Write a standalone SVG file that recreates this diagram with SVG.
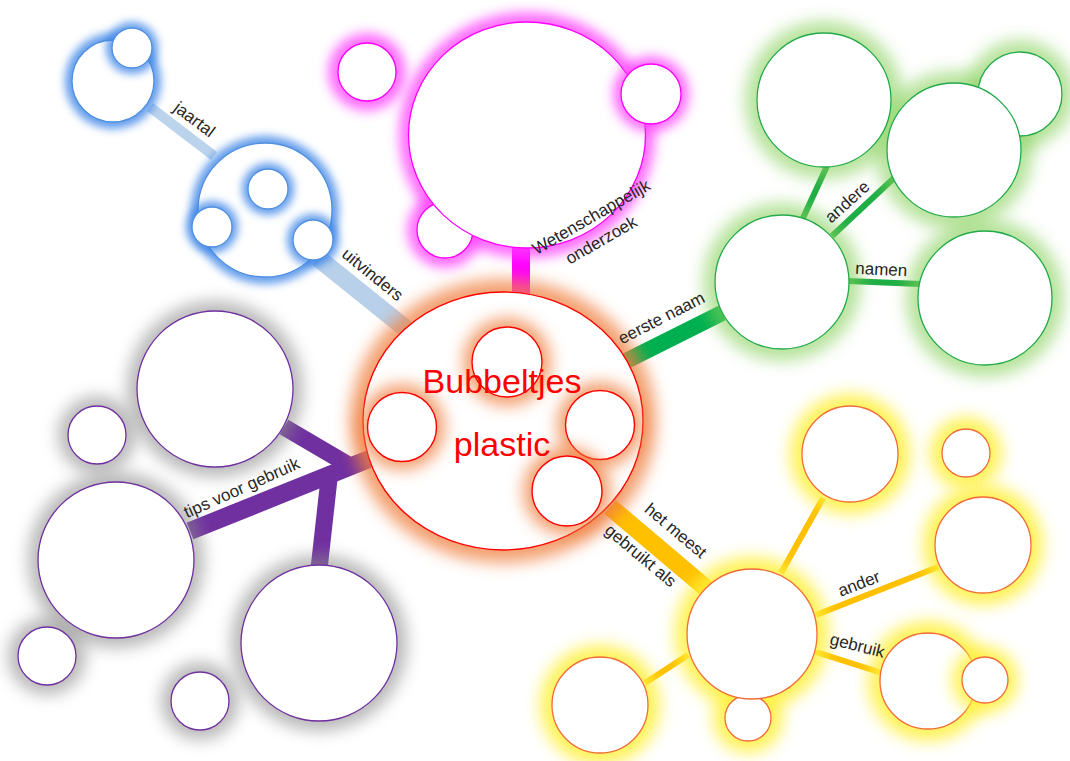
<svg xmlns="http://www.w3.org/2000/svg" width="1070" height="761" viewBox="0 0 1070 761">
<defs>
<filter id="f1" x="-50%" y="-50%" width="200%" height="200%"><feGaussianBlur stdDeviation="4"/></filter>
<filter id="f2" x="-50%" y="-50%" width="200%" height="200%"><feGaussianBlur stdDeviation="6"/></filter>
<filter id="f3" x="-50%" y="-50%" width="200%" height="200%"><feGaussianBlur stdDeviation="8"/></filter>
<style>
.gB{fill:#3d85e6;opacity:.8;filter:url(#f1)}
.gM{fill:#ff40ff;opacity:.75;filter:url(#f2)}
.gG{fill:#86d05a;opacity:.6;filter:url(#f3)}
.gR{fill:#f0803f;opacity:.75;filter:url(#f3)}
.gP{fill:#8a8a8a;opacity:.6;filter:url(#f3)}
.gY{fill:#fff03a;opacity:.85;filter:url(#f3)}
.nB{fill:#fff;stroke:#4f8fe0;stroke-width:1.3}
.nM{fill:#fff;stroke:#ff00ff;stroke-width:1.3}
.nG{fill:#fff;stroke:#22aa4a;stroke-width:1.3}
.nR{fill:#fff;stroke:#ff0000;stroke-width:1.4}
.nP{fill:#fff;stroke:#7030a0;stroke-width:1.3}
.nY{fill:#fff;stroke:#f26c3a;stroke-width:1.3}
.lbl{font-family:"Liberation Sans",Arial,sans-serif;font-size:17px;fill:#262626;text-anchor:middle}
.ttl{font-family:"Liberation Sans",Arial,sans-serif;font-size:34px;fill:#ff0000;text-anchor:middle}
line{stroke-linecap:butt}
</style>
</defs>
<rect width="1070" height="761" fill="#fff"/>

<g id="connectors">
<line x1="150" y1="107" x2="214" y2="156" stroke="#bcd3ec" stroke-width="10"/>
<line x1="318" y1="258" x2="410" y2="332" stroke="#b9d0ea" stroke-width="18"/>
<line x1="521" y1="246" x2="521" y2="294" stroke="#ff00ff" stroke-width="18"/>
<line x1="626" y1="361" x2="722" y2="313" stroke="#00b050" stroke-width="16"/>
<line x1="803" y1="218" x2="827" y2="166" stroke="#1fae45" stroke-width="6"/>
<line x1="832" y1="236" x2="894" y2="178" stroke="#1fae45" stroke-width="6"/>
<line x1="848" y1="281" x2="920" y2="284" stroke="#1fae45" stroke-width="6"/>
<line x1="190" y1="531" x2="374" y2="457" stroke="#7030a0" stroke-width="18"/>
<line x1="284" y1="427" x2="347" y2="464" stroke="#7030a0" stroke-width="17"/>
<line x1="319" y1="569" x2="330" y2="470" stroke="#7030a0" stroke-width="17"/>
<line x1="610" y1="507" x2="707" y2="589" stroke="#ffc000" stroke-width="18"/>
<line x1="781" y1="573" x2="823" y2="498" stroke="#ffc000" stroke-width="6"/>
<line x1="816" y1="615" x2="938" y2="567" stroke="#ffc000" stroke-width="6"/>
<line x1="816" y1="652" x2="882" y2="673" stroke="#ffc000" stroke-width="6"/>
<line x1="688" y1="655" x2="645" y2="683" stroke="#ffc000" stroke-width="6"/>
</g>

<g id="glows">
<circle class="gB" cx="113" cy="81" r="48"/>
<circle class="gB" cx="265" cy="210" r="74"/>
<circle class="gM" cx="445" cy="230" r="38"/>
<ellipse class="gM" cx="527" cy="135" rx="128" ry="123"/>
<circle class="gM" cx="367" cy="72" r="39"/>
<circle class="gG" cx="824" cy="100" r="79"/>
<circle class="gG" cx="1020" cy="94" r="54"/>
<circle class="gG" cx="954" cy="150" r="79"/>
<circle class="gG" cx="782" cy="282" r="79"/>
<circle class="gG" cx="985" cy="298" r="79"/>
<ellipse class="gR" cx="503" cy="421" rx="153" ry="142"/>
<circle class="gP" cx="215" cy="389" r="88"/>
<circle class="gP" cx="97" cy="435" r="39"/>
<circle class="gP" cx="116" cy="560" r="88"/>
<circle class="gP" cx="47" cy="656" r="39"/>
<circle class="gP" cx="200" cy="701" r="39"/>
<circle class="gP" cx="319" cy="643" r="88"/>
<circle class="gY" cx="752" cy="634" r="77"/>
<circle class="gY" cx="850" cy="454" r="60"/>
<circle class="gY" cx="966" cy="453" r="36"/>
<circle class="gY" cx="983" cy="545" r="60"/>
<circle class="gY" cx="928" cy="681" r="60"/>
<circle class="gY" cx="748" cy="718" r="35"/>
<circle class="gY" cx="600" cy="705" r="60"/>
</g>

<g id="node-blue-jaartal"><circle class="nB" cx="113" cy="81" r="41"/></g>
<g id="node-blue-jaartal-small"><circle class="gB" cx="132" cy="48" r="26"/><circle class="nB" cx="132" cy="48" r="20"/></g>
<g id="node-blue-uitvinders"><circle class="nB" cx="265" cy="210" r="67"/></g>
<g id="node-blue-in1"><circle class="gB" cx="268" cy="189" r="26"/><circle class="nB" cx="268" cy="189" r="20"/></g>
<g id="node-blue-in2"><circle class="gB" cx="212" cy="227" r="26"/><circle class="nB" cx="212" cy="227" r="20"/></g>
<g id="node-blue-in3"><circle class="gB" cx="313" cy="240" r="26"/><circle class="nB" cx="313" cy="240" r="20"/></g>

<g id="node-mag-bl"><circle class="nM" cx="445" cy="230" r="28"/></g>
<g id="node-mag-main"><ellipse class="nM" cx="527" cy="135" rx="118.5" ry="113"/></g>
<g id="node-mag-left"><circle class="nM" cx="367" cy="72" r="29"/></g>
<g id="node-mag-right"><circle class="gM" cx="651" cy="94" r="38"/><circle class="nM" cx="651" cy="94" r="30"/></g>

<g id="node-green-a"><circle class="nG" cx="824" cy="100" r="67"/></g>
<g id="node-green-b"><circle class="nG" cx="1020" cy="94" r="42"/></g>
<g id="node-green-c"><circle class="nG" cx="954" cy="150" r="67"/></g>
<g id="node-green-d"><circle class="nG" cx="782" cy="282" r="67"/></g>
<g id="node-green-e"><circle class="nG" cx="985" cy="298" r="67"/></g>

<g id="node-center">
<ellipse class="nR" cx="503" cy="421" rx="140" ry="129"/>
<circle class="gR" cx="507" cy="362" r="44"/><circle class="nR" cx="507" cy="362" r="35"/>
<circle class="gR" cx="402" cy="427" r="43"/><circle class="nR" cx="402" cy="427" r="34.5"/>
<circle class="gR" cx="600" cy="425" r="43"/><circle class="nR" cx="600" cy="425" r="34.5"/>
<circle class="gR" cx="567" cy="491" r="44"/><circle class="nR" cx="567" cy="491" r="35"/>
<text class="ttl" x="502" y="393">Bubbeltjes</text>
<text class="ttl" x="502" y="456">plastic</text>
</g>

<g id="node-purple-top"><circle class="nP" cx="215" cy="389" r="78"/></g>
<g id="node-purple-small1"><circle class="nP" cx="97" cy="435" r="29"/></g>
<g id="node-purple-left"><circle class="nP" cx="116" cy="560" r="78"/></g>
<g id="node-purple-small2"><circle class="nP" cx="47" cy="656" r="29"/></g>
<g id="node-purple-small3"><circle class="nP" cx="200" cy="701" r="29"/></g>
<g id="node-purple-bottom"><circle class="nP" cx="319" cy="643" r="78"/></g>

<g id="node-yellow-small-bottom"><circle class="nY" cx="748" cy="718" r="23"/></g>
<g id="node-yellow-center"><circle class="nY" cx="752" cy="634" r="65"/></g>
<g id="node-yellow-top"><circle class="nY" cx="850" cy="454" r="48"/></g>
<g id="node-yellow-small-top"><circle class="nY" cx="966" cy="453" r="24"/></g>
<g id="node-yellow-right"><circle class="nY" cx="983" cy="545" r="48"/></g>
<g id="node-yellow-gebruik"><circle class="nY" cx="928" cy="681" r="48"/></g>
<g id="node-yellow-gebruik-small"><circle class="gY" cx="985" cy="680" r="33"/><circle class="nY" cx="985" cy="680" r="23"/></g>
<g id="node-yellow-bl"><circle class="nY" cx="600" cy="705" r="48"/></g>

<g id="labels">
<text class="lbl" transform="translate(191,124) rotate(37)">jaartal</text>
<text class="lbl" transform="translate(369,279) rotate(39)">uitvinders</text>
<text class="lbl" transform="translate(594,222) rotate(-30)">Wetenschappelijk</text>
<text class="lbl" transform="translate(604,245) rotate(-30)">onderzoek</text>
<text class="lbl" transform="translate(664,323) rotate(-27)">eerste naam</text>
<text class="lbl" transform="translate(851,206) rotate(-42)">andere</text>
<text class="lbl" transform="translate(881,275) rotate(3)">namen</text>
<text class="lbl" transform="translate(244,493) rotate(-24)">tips voor gebruik</text>
<text class="lbl" transform="translate(672,535) rotate(40)">het meest</text>
<text class="lbl" transform="translate(637,560) rotate(40)">gebruikt als</text>
<text class="lbl" transform="translate(861,589) rotate(-21)">ander</text>
<text class="lbl" transform="translate(856,651) rotate(14)">gebruik</text>
</g>
</svg>
